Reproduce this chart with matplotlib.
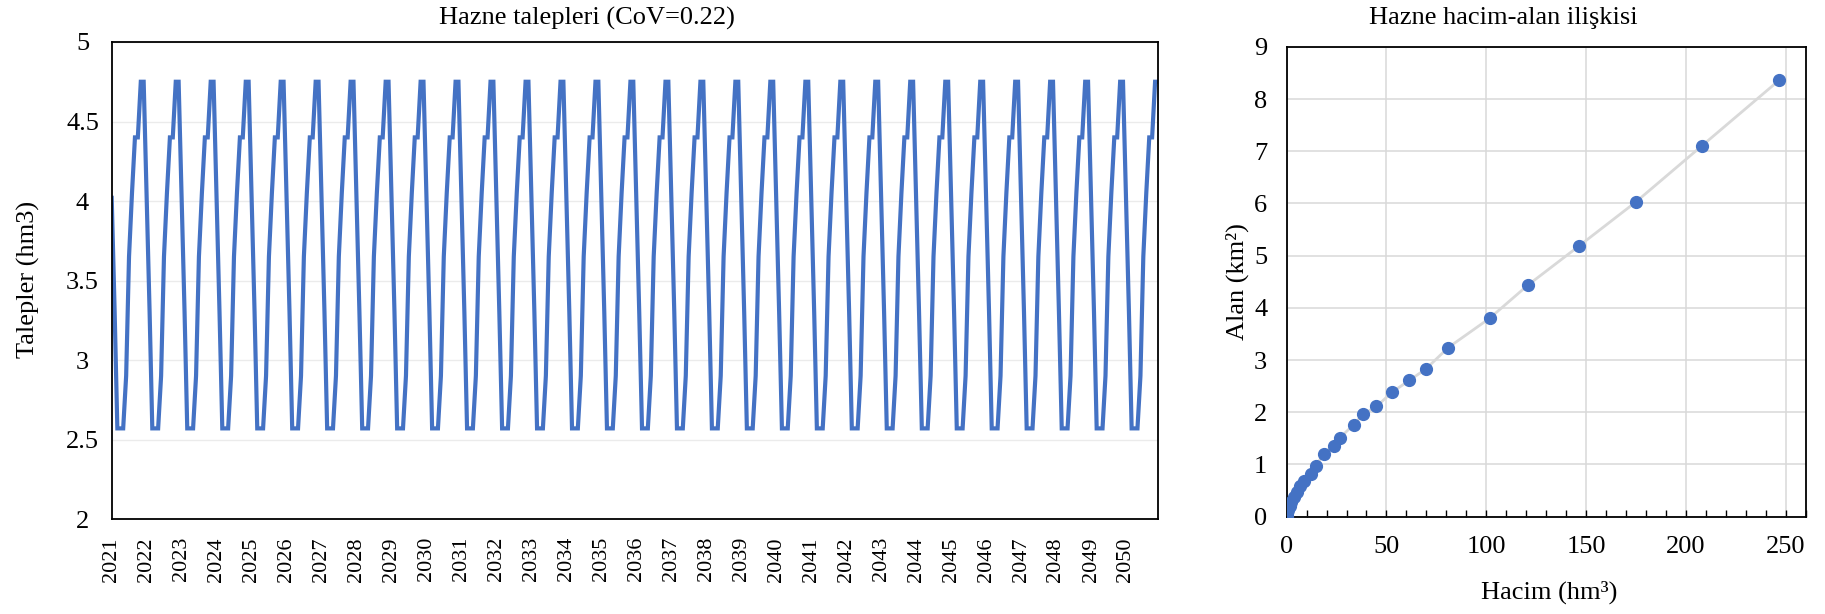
import numpy as np
import pandas as pd
import matplotlib
matplotlib.use("Agg")
import matplotlib.pyplot as plt
import matplotlib.dates as mdates
from matplotlib.ticker import MultipleLocator, FormatStrFormatter

plt.rcParams['font.family'] = ['Liberation Serif', 'DejaVu Serif']

# monthly demand pattern (hm3), same every year
monthly_demand = [4.02, 3.30, 2.57, 2.57, 2.57, 2.90, 3.65, 4.05, 4.40, 4.40, 4.75, 4.75]
start_year = 2021
n_years = 30

# reservoir volume-area curve
volume = [0, 0.05, 0.3, 0.8, 1.5, 2.4, 3.5, 5.0, 6.7, 8.8, 12.0, 14.5, 18.6, 23.5,
          26.7, 33.5, 38.3, 45.0, 53.0, 61.5, 69.8, 81.0, 101.7, 120.7, 146.3,
          175.0, 207.9, 246.7]
area = [0, 0.02, 0.07, 0.13, 0.20, 0.28, 0.37, 0.47, 0.58, 0.69, 0.82, 0.97, 1.20,
        1.35, 1.51, 1.76, 1.96, 2.11, 2.39, 2.61, 2.83, 3.24, 3.80, 4.43, 5.18,
        6.03, 7.10, 8.36]

dates = pd.date_range(f"{start_year}-01-01", periods=12 * n_years, freq="MS")
demand = np.tile(monthly_demand, n_years)

blue = "#4472C4"

fig = plt.figure(figsize=(18.25, 6.14), dpi=100)

# --- left: demand time series ---
ax1 = fig.add_axes([0.0612, 0.1547, 0.5733, 0.7769])
ax1.plot(dates, demand, color=blue, lw=3.0, solid_joinstyle="miter")
ax1.set_xlim(dates[0], dates[-1])
ax1.set_ylim(2, 5)
ax1.yaxis.set_major_locator(MultipleLocator(0.5))
ax1.yaxis.set_major_formatter(FormatStrFormatter("%g"))
ax1.xaxis.set_major_locator(mdates.YearLocator())
ax1.xaxis.set_major_formatter(mdates.DateFormatter("%Y"))
ax1.grid(axis="y", color="#EBEBEB", lw=1.0)
ax1.set_axisbelow(True)
ax1.tick_params(axis="y", length=0, pad=21, labelsize=19)
for lbl in ax1.get_yticklabels():
    lbl.set_horizontalalignment("center")
ax1.tick_params(axis="x", length=0, pad=13, labelsize=16, rotation=90)
for s in ax1.spines.values():
    s.set_color("black")
    s.set_linewidth(1.3)

fig.text(0.3216, 0.97, "Hazne talepleri (CoV=0.22)", ha="center", va="center", fontsize=19)
fig.text(0.0155, 0.545, "Talepler (hm3)", ha="center", va="center", rotation=90, fontsize=19)

# --- right: volume-area relation ---
ax2 = fig.add_axes([0.7050, 0.1586, 0.2844, 0.7651])
ax2.plot(volume, area, color="#D9D9D9", lw=2.0, zorder=2)
ax2.plot(volume, area, "o", color=blue, ms=8.5, zorder=3)
ax2.set_xlim(0, 260)
ax2.set_ylim(0, 9)
ax2.set_xticks(np.arange(0, 251, 50))
ax2.xaxis.set_minor_locator(MultipleLocator(10))
ax2.yaxis.set_major_locator(MultipleLocator(1))
ax2.grid(which="major", color="#D9D9D9", lw=1.1)
ax2.set_axisbelow(True)
ax2.tick_params(axis="x", which="both", direction="in", length=5, width=1.0,
                pad=14, labelsize=19)
ax2.tick_params(axis="y", length=0, pad=14, labelsize=19)
for s in ax2.spines.values():
    s.set_color("black")
    s.set_linewidth(1.3)

fig.text(0.824, 0.97, "Hazne hacim-alan ilişkisi", ha="center", va="center", fontsize=19)
fig.text(0.678, 0.541, "Alan (km²)", ha="center", va="center", rotation=90, fontsize=19)
fig.text(0.849, 0.035, "Hacim (hm³)", ha="center", va="center", fontsize=19)

fig.savefig("out.png", dpi=100)
